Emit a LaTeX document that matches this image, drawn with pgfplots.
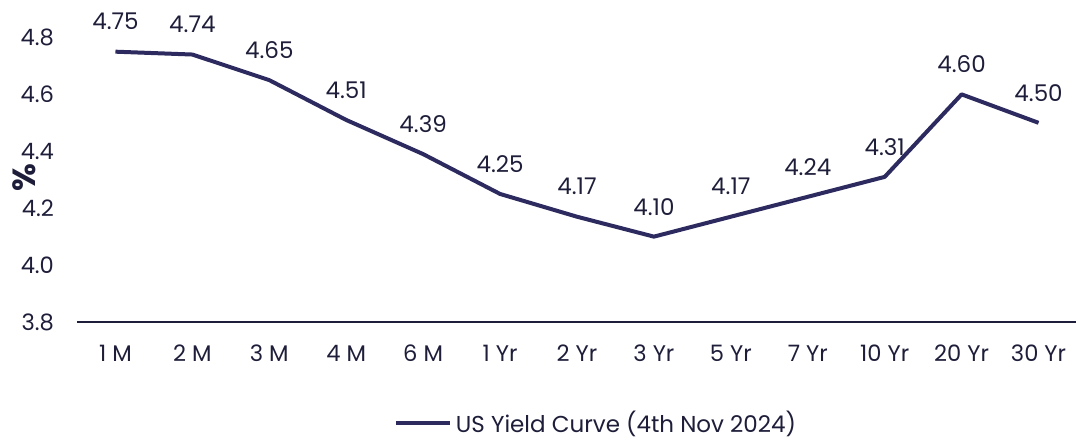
\documentclass[border=0pt]{standalone}
\usepackage{pgfplots}
\pgfplotsset{compat=1.18}
\usepackage{fontspec}
\setmainfont{Poppins}
\definecolor{navy}{HTML}{2C2A5E}
\definecolor{txt}{HTML}{1E1E3A}
\begin{document}
\begin{tikzpicture}
\begin{axis}[
  name=a,
  scale only axis,
  width=500pt, height=156.5pt,
  xmin=-0.5, xmax=12.5, ymin=3.8, ymax=4.9,
  axis y line*=left,
  y axis line style={draw=none},
  axis x line*=bottom,
  x axis line style={-, color=txt, line width=0.8pt},
  xtick={0,...,12},
  xticklabels={1 M,2 M,3 M,4 M,6 M,1 Yr,2 Yr,3 Yr,5 Yr,7 Yr,10 Yr,20 Yr,30 Yr},
  ytick={3.8,4.0,4.2,4.4,4.6,4.8},
  major tick length=0pt,
  tick label style={font=\fontsize{11.3}{13}\selectfont, color=txt},
  /pgf/number format/assume math mode=true,
  yticklabel style={/pgf/number format/fixed, /pgf/number format/fixed zerofill, /pgf/number format/precision=1},
  xticklabel style={yshift=-8pt},
  yticklabel style={xshift=-8pt},
  ylabel={\%},
  ylabel style={font=\bfseries\fontsize{16}{18}\selectfont, color=txt, at={(rel axis cs:0,0.46)}, anchor=center, yshift=26.5pt},
  clip=false,
  nodes near coords,
  nodes near coords style={font=\fontsize{11.5}{13}\selectfont, color=txt, anchor=center, yshift=15pt, /pgf/number format/fixed, /pgf/number format/fixed zerofill, /pgf/number format/precision=2, /pgf/number format/assume math mode=true},
  legend style={at={(rel axis cs:0.52,-0.322)}, anchor=center, draw=none, font=\fontsize{11.5}{13}\selectfont, text=txt, /tikz/every even column/.append style={column sep=2pt}},
  legend image code/.code={\draw[#1, line width=2pt] (0pt,0pt) -- (27pt,0pt);},
]
\addplot[color=navy, line width=2pt, line join=round] coordinates {
(0,4.75) (1,4.74) (2,4.65) (3,4.51) (4,4.39) (5,4.25) (6,4.17) (7,4.10) (8,4.17) (9,4.24) (10,4.31) (11,4.60) (12,4.50)
};
\addlegendentry{US Yield Curve (4th Nov 2024)}
\end{axis}
\pgfresetboundingbox
\path ([xshift=-38.5pt,yshift=-58.5pt]a.south west) rectangle ([xshift=-0.5pt,yshift=4.5pt]a.north east);
\end{tikzpicture}
\end{document}
